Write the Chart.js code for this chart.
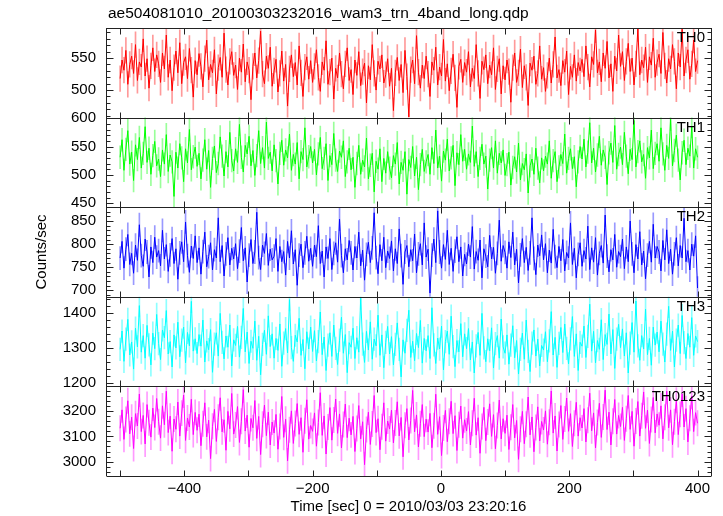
<!DOCTYPE html>
<html>
<head>
<meta charset="utf-8">
<script src="https://cdn.jsdelivr.net/npm/chart.js@4/dist/chart.umd.min.js"></script>
<style>
  html, body { margin: 0; padding: 0; background: #fff; }
</style>
</head>
<body>
<canvas id="chart" width="723" height="516"></canvas>
<script>
const chartTitle = 'ae504081010_20100303232016_wam3_trn_4band_long.qdp';
const xTitle = 'Time [sec] 0 = 2010/03/03 23:20:16';
const yTitle = 'Counts/sec';
const panelNames = ['TH0', 'TH1', 'TH2', 'TH3', 'TH0123'];
const panelColors = ['#ff0000', '#00ff00', '#0000ff', '#00ffff', '#ff00ff'];
const errColors = ['rgba(255,0,0,0.4)', 'rgba(0,255,0,0.4)', 'rgba(0,0,255,0.4)', 'rgba(0,255,255,0.45)', 'rgba(255,0,255,0.4)'];

// time bins: start of first bin and bin width (sec)
const binStart = -500;
const binWidth = 3;

const th0 = [
  518, 547, 531, 562, 509, 540, 553, 526, 571, 515, 544, 536, 580, 522, 549, 503, 538, 566, 529, 555,
  541, 512, 558, 533, 586, 520, 547, 499, 535, 561, 527, 574, 510, 543, 552, 518, 565, 531, 489, 546,
  524, 557, 537, 505, 549, 578, 516, 540, 527, 563, 494, 535, 551, 520, 589, 532, 508, 545, 560, 523,
  539, 501, 550, 528, 572, 513, 544, 531, 485, 537, 558, 519, 546, 592, 525, 510, 553, 534, 567, 506,
  530, 548, 497, 526, 561, 514, 540, 475, 533, 555, 521, 543, 508, 569, 527, 490, 536, 552, 517, 546,
  512, 537, 563, 520, 498, 544, 531, 577, 509, 528, 550, 486, 534, 519, 558, 525, 502, 541, 566, 515,
  532, 493, 547, 523, 560, 507, 529, 542, 480, 538, 516, 571, 526, 500, 545, 533, 555, 511, 524, 549,
  506, 534, 468, 527, 551, 515, 540, 496, 562, 521, 458, 532, 547, 510, 585, 528, 503, 539, 518, 553,
  525, 490, 544, 531, 567, 508, 536, 522, 579, 514, 541, 499, 530, 556, 519, 473, 537, 548, 512, 543,
  528, 560, 505, 534, 518, 571, 526, 487, 545, 532, 555, 510, 539, 524, 566, 501, 533, 549, 494, 538,
  516, 547, 529, 481, 535, 558, 512, 527, 564, 504, 538, 520, 476, 542, 531, 553, 509, 526, 569, 517,
  535, 498, 523, 550, 511, 540, 583, 519, 532, 507, 546, 528, 561, 493, 537, 520, 555, 514, 543, 530,
  548, 521, 569, 536, 505, 552, 540, 594, 527, 544, 513, 558, 534, 576, 519, 541, 498, 553, 530, 586,
  537, 560, 515, 545, 573, 529, 550, 508, 541, 596, 524, 547, 535, 567, 512, 552, 539, 581, 520, 543,
  556, 526, 590, 538, 511, 549, 533, 571, 545, 502, 558, 536, 595, 522, 547, 563, 517, 541, 578, 529,
  546
];
const th1 = [
  531, 562, 508, 545, 578, 519, 540, 490, 553, 527, 566, 512, 538, 585, 522, 547, 501, 534, 559, 516,
  528, 497, 544, 519, 571, 506, 535, 523, 462, 540, 512, 555, 530, 488, 546, 521, 580, 509, 532, 549,
  515, 538, 493, 526, 562, 510, 543, 478, 529, 551, 504, 520, 567, 533, 498, 541, 514, 575, 525, 507,
  546, 522, 589, 531, 505, 552, 537, 568, 516, 543, 499, 534, 578, 520, 548, 512, 593, 529, 540, 507,
  553, 525, 484, 538, 561, 517, 544, 530, 572, 508, 536, 519, 557, 493, 541, 527, 583, 514, 532, 550,
  521, 545, 500, 537, 566, 511, 529, 555, 490, 534, 518, 573, 526, 506, 542, 531, 560, 497, 523, 547,
  509, 531, 478, 520, 552, 501, 526, 514, 565, 493, 517, 538, 470, 524, 510, 546, 488, 529, 503, 541,
  512, 495, 534, 519, 557, 484, 522, 508, 541, 466, 527, 513, 550, 498, 531, 474, 518, 545, 506, 523,
  536, 501, 548, 520, 579, 512, 533, 489, 542, 526, 563, 507, 530, 552, 481, 539, 518, 571, 524, 545,
  510, 537, 522, 586, 515, 541, 497, 529, 554, 519, 533, 475, 526, 548, 512, 560, 503, 538, 521, 544,
  499, 518, 540, 482, 513, 532, 505, 556, 491, 520, 509, 537, 468, 516, 528, 501, 547, 512, 486, 530,
  507, 533, 519, 560, 494, 525, 541, 488, 514, 536, 520, 572, 503, 529, 546, 511, 532, 479, 523, 550,
  528, 563, 514, 540, 592, 521, 547, 505, 535, 568, 517, 544, 531, 483, 539, 556, 522, 587, 510, 536,
  549, 518, 575, 533, 502, 545, 527, 596, 514, 541, 560, 523, 536, 494, 548, 530, 579, 511, 538, 555,
  524, 583, 537, 508, 552, 529, 598, 516, 543, 570, 526, 491, 539, 561, 518, 547, 533, 585, 512, 546,
  531
];
const th2 = [
  770, 806, 748, 789, 821, 756, 780, 737, 798, 765, 842, 775, 752, 811, 783, 729, 794, 760, 815, 772,
  786, 753, 830, 768, 799, 741, 777, 812, 758, 790, 724, 781, 805, 762, 848, 775, 739, 796, 769, 818,
  760, 792, 735, 784, 826, 751, 773, 803, 744, 788, 770, 857, 762, 797, 731, 779, 814, 755, 791, 768,
  801, 747, 785, 836, 764, 792, 718, 776, 810, 758, 783, 869, 771, 745, 798, 780, 823, 754, 789, 766,
  774, 812, 741, 795, 762, 784, 733, 806, 770, 829, 757, 788, 711, 776, 800, 749, 781, 817, 763, 791,
  752, 798, 773, 840, 758, 785, 729, 794, 769, 812, 745, 780, 803, 761, 854, 775, 738, 790, 766, 808,
  781, 744, 795, 770, 826, 753, 787, 722, 778, 804, 760, 792, 868, 771, 736, 799, 764, 815, 749, 785,
  769, 807, 742, 790, 758, 833, 775, 713, 783, 797, 751, 788, 764, 822, 738, 779, 801, 755, 846, 772,
  789, 694, 776, 811, 760, 872, 783, 748, 799, 767, 830, 756, 791, 741, 785, 816, 762, 794, 731, 778,
  757, 800, 772, 838, 746, 784, 765, 809, 727, 790, 774, 751, 819, 768, 793, 737, 780, 852, 763, 797,
  782, 748, 805, 771, 826, 755, 789, 716, 777, 812, 760, 793, 743, 781, 857, 769, 734, 798, 775, 820,
  766, 801, 738, 787, 759, 832, 773, 749, 795, 764, 810, 742, 782, 770, 846, 756, 791, 727, 778, 803,
  752, 786, 768, 839, 745, 792, 761, 814, 733, 780, 797, 759, 863, 774, 740, 788, 766, 821, 750, 784,
  773, 811, 747, 794, 762, 850, 779, 738, 799, 768, 827, 755, 785, 725, 776, 806, 761, 843, 770, 795,
  783, 742, 808, 766, 831, 758, 789, 735, 779, 814, 753, 797, 770, 856, 762, 786, 744, 800, 774, 818,
  705
];
const th3 = [
  1296, 1348, 1262, 1325, 1381, 1280, 1317, 1240, 1356, 1303, 1420, 1288, 1335, 1271, 1364, 1309, 1252, 1342, 1298, 1395,
  1312, 1267, 1351, 1329, 1406, 1283, 1318, 1246, 1337, 1300, 1373, 1275, 1322, 1359, 1258, 1344, 1306, 1432, 1291, 1326,
  1284, 1338, 1305, 1379, 1260, 1320, 1295, 1352, 1231, 1311, 1343, 1277, 1398, 1316, 1269, 1334, 1302, 1365, 1249, 1323,
  1307, 1361, 1274, 1330, 1412, 1289, 1345, 1256, 1319, 1299, 1376, 1265, 1333, 1224, 1310, 1350, 1282, 1391, 1304, 1340,
  1271, 1327, 1293, 1368, 1248, 1314, 1355, 1286, 1437, 1301, 1262, 1336, 1317, 1384, 1279, 1324, 1241, 1346, 1297, 1359,
  1290, 1349, 1263, 1318, 1402, 1281, 1331, 1236, 1308, 1343, 1276, 1365, 1299, 1253, 1322, 1387, 1285, 1338, 1230, 1315,
  1302, 1356, 1270, 1329, 1288, 1441, 1311, 1259, 1347, 1294, 1374, 1268, 1325, 1306, 1393, 1279, 1337, 1244, 1316, 1361,
  1283, 1332, 1252, 1310, 1371, 1296, 1218, 1323, 1285, 1350, 1407, 1273, 1319, 1264, 1341, 1301, 1378, 1257, 1327, 1292,
  1335, 1270, 1414, 1309, 1256, 1328, 1297, 1362, 1238, 1318, 1348, 1282, 1390, 1304, 1247, 1321, 1289, 1369, 1275, 1340,
  1298, 1355, 1266, 1317, 1229, 1306, 1344, 1279, 1398, 1300, 1261, 1326, 1292, 1357, 1243, 1312, 1335, 1271, 1382, 1303,
  1285, 1337, 1254, 1308, 1363, 1272, 1321, 1226, 1296, 1342, 1268, 1379, 1290, 1233, 1314, 1351, 1277, 1325, 1249, 1307,
  1294, 1346, 1261, 1320, 1403, 1280, 1330, 1245, 1313, 1358, 1287, 1368, 1299, 1255, 1326, 1389, 1276, 1340, 1236, 1316,
  1305, 1362, 1273, 1333, 1424, 1291, 1347, 1258, 1321, 1296, 1380, 1267, 1338, 1310, 1396, 1283, 1352, 1242, 1325, 1367,
  1301, 1354, 1277, 1343, 1229, 1314, 1372, 1288, 1433, 1306, 1265, 1335, 1297, 1410, 1281, 1327, 1251, 1359, 1308, 1345,
  1289, 1376, 1311, 1260, 1339, 1418, 1293, 1348, 1246, 1322, 1365, 1284, 1392, 1315, 1270, 1341, 1302, 1386, 1279, 1334,
  1318
];
const th0123 = [
  3132, 3205, 3088, 3167, 3241, 3110, 3176, 3052, 3190, 3141, 3268, 3119, 3183, 3070, 3226, 3154, 3097, 3212, 3135, 3250,
  3158, 3093, 3221, 3146, 3279, 3115, 3180, 3041, 3169, 3128, 3236, 3101, 3192, 3264, 3084, 3173, 3137, 3247, 3107, 3195,
  3124, 3188, 3063, 3150, 3233, 3098, 3164, 3012, 3140, 3207, 3080, 3176, 3253, 3118, 3166, 3045, 3199, 3130, 3270, 3109,
  3145, 3218, 3076, 3160, 3285, 3121, 3184, 3057, 3171, 3134, 3242, 3092, 3179, 3028, 3148, 3224, 3103, 3196, 3066, 3157,
  3113, 3187, 3049, 3139, 3258, 3096, 3168, 3003, 3126, 3201, 3072, 3151, 3230, 3108, 3174, 3037, 3162, 3245, 3089, 3143,
  3120, 3193, 3061, 3155, 3273, 3104, 3181, 3030, 3137, 3214, 3085, 3165, 3248, 3112, 3189, 3054, 3147, 3228, 3095, 3172,
  3106, 3179, 3040, 3131, 3222, 3090, 3158, 2988, 3127, 3196, 3068, 3149, 3262, 3115, 3170, 3047, 3138, 3233, 3081, 3161,
  3129, 3204, 3074, 3153, 3237, 3102, 3175, 3019, 3144, 3210, 3086, 3163, 3282, 3118, 3185, 3058, 3150, 3226, 3099, 3168,
  3117, 3191, 3055, 3142, 3267, 3108, 3178, 3024, 3133, 3203, 3079, 3160, 3239, 3111, 3182, 3044, 3146, 3220, 3093, 3166,
  3121, 3198, 3066, 3152, 3251, 3105, 3174, 3033, 3139, 3215, 3083, 3157, 3229, 3100, 3186, 3051, 3143, 3244, 3090, 3170,
  3112, 3184, 3048, 3136, 3226, 3094, 3163, 3009, 3128, 3199, 3071, 3148, 3256, 3106, 3177, 3039, 3135, 3217, 3082, 3159,
  3125, 3201, 3069, 3156, 3280, 3113, 3181, 3042, 3147, 3222, 3088, 3169, 3252, 3120, 3190, 3060, 3152, 3235, 3101, 3174,
  3133, 3210, 3078, 3164, 3271, 3122, 3193, 3054, 3155, 3231, 3096, 3177, 3283, 3127, 3196, 3066, 3160, 3246, 3109, 3183,
  3139, 3215, 3084, 3170, 3262, 3128, 3199, 3061, 3161, 3238, 3101, 3182, 3276, 3132, 3204, 3072, 3167, 3254, 3114, 3189,
  3144, 3221, 3090, 3176, 3279, 3134, 3205, 3067, 3158, 3243, 3107, 3187, 3268, 3137, 3210, 3078, 3172, 3259, 3119, 3194,
  3152
];
const seriesValues = [th0, th1, th2, th3, th0123];
// typical 1-sigma error per panel (counts/sec)
const seriesErrors = [20, 20, 25, 32, 50];

// axis ranges and tick steps per panel
const yMins = [457, 443, 686, 1191, 2943];
const yMaxs = [597, 601, 880, 1445, 3298];
const yMajor = [50, 50, 50, 100, 100];
const yMinor = [10, 10, 10, 20, 20];
const xMin = -522, xMax = 421;

Chart.defaults.font.family = '"Liberation Sans", Arial, sans-serif';
Chart.defaults.font.size = 15;
Chart.defaults.color = '#000';

const FRAME = '#222';

const framePlugin = {
  id: 'frame',
  afterDraw(chart) {
    const ctx = chart.ctx;
    const area = chart.chartArea;
    const xs = chart.scales.x;
    ctx.save();
    ctx.strokeStyle = FRAME;
    ctx.lineWidth = 1;
    ctx.beginPath();
    const l = Math.round(area.left) + 0.5;
    const r = Math.round(area.right) + 0.5;
    panelNames.forEach((name, i) => {
      const ys = chart.scales['y' + i];
      const top = Math.round(ys.top) + 0.5;
      const bot = Math.round(ys.bottom) + 0.5;
      ctx.moveTo(l, top); ctx.lineTo(r, top);
      ctx.moveTo(l, bot); ctx.lineTo(r, bot);
      // y ticks, inside on both sides
      const start = Math.ceil(yMins[i] / yMinor[i]) * yMinor[i];
      for (let v = start; v <= yMaxs[i]; v += yMinor[i]) {
        const y = Math.round(ys.getPixelForValue(v)) + 0.5;
        const len = (v % yMajor[i] === 0) ? 7 : 4;
        ctx.moveTo(l, y); ctx.lineTo(l + len, y);
        ctx.moveTo(r, y); ctx.lineTo(r - len, y);
      }
      // x ticks at top and bottom of each panel
      for (let t = -500; t <= 400; t += 100) {
        const x = Math.round(xs.getPixelForValue(t)) + 0.5;
        ctx.moveTo(x, top); ctx.lineTo(x, top + 6);
        ctx.moveTo(x, bot); ctx.lineTo(x, bot - 6);
      }
    });
    ctx.moveTo(l, area.top); ctx.lineTo(l, area.bottom);
    ctx.moveTo(r, area.top); ctx.lineTo(r, area.bottom);
    ctx.stroke();

    ctx.fillStyle = '#000';
    ctx.font = '15px "Liberation Sans", Arial, sans-serif';
    ctx.textBaseline = 'middle';
    ctx.textAlign = 'right';
    panelNames.forEach((name, i) => {
      ctx.fillText(name, area.right - 6, chart.scales['y' + i].top + 10);
    });
    ctx.textAlign = 'left';
    ctx.font = '15.5px "Liberation Sans", Arial, sans-serif';
    ctx.fillText(chartTitle, 108, 14);
    ctx.restore();
  }
};

const scales = {
  x: {
    type: 'linear',
    min: xMin,
    max: xMax,
    offset: false,
    grid: { display: false, drawTicks: false, offset: false },
    border: { display: false },
    ticks: {
      stepSize: 200,
      includeBounds: false,
      padding: 4,
      maxRotation: 0,
      callback: v => v < 0 ? '\u2212' + Math.abs(v) : String(v)
    },
    title: { display: true, text: xTitle, padding: 0 },
    afterFit(scale) { scale.height = 40; }
  }
};
// stacked y axes, defined bottom panel first
for (let i = panelNames.length - 1; i >= 0; i--) {
  scales['y' + i] = {
    type: 'linear',
    position: 'left',
    stack: 'panels',
    stackWeight: 1,
    min: yMins[i],
    max: yMaxs[i],
    grid: { display: false, drawTicks: false },
    border: { display: false },
    ticks: {
      stepSize: yMajor[i],
      includeBounds: false,
      padding: 10,
      autoSkip: false,
      callback: v => String(v)
    },
    title: i === 2 ? { display: true, text: yTitle, padding: { top: 33, bottom: 0 } } : { display: false },
    afterFit(scale) { scale.width = 106; }
  };
}

const datasets = [];
seriesValues.forEach((vals, i) => {
  // light error bars behind
  datasets.push({
    type: 'bar',
    label: panelNames[i] + ' err',
    data: vals.map((v, k) => ({ x: binStart + k * binWidth, y: [v - seriesErrors[i], v + seriesErrors[i]] })),
    yAxisID: 'y' + i,
    backgroundColor: errColors[i],
    barThickness: 1,
    grouped: false,
    order: 2
  });
  datasets.push({
    type: 'line',
    label: panelNames[i],
    data: vals.map((v, k) => ({ x: binStart + k * binWidth, y: v })),
    yAxisID: 'y' + i,
    borderColor: panelColors[i],
    borderWidth: 1,
    pointRadius: 0,
    tension: 0,
    fill: false,
    order: 1
  });
});

new Chart(document.getElementById('chart').getContext('2d'), {
  type: 'line',
  data: { datasets: datasets },
  options: {
    responsive: false,
    animation: false,
    layout: { padding: { top: 28, right: 12, left: 0, bottom: 0 } },
    plugins: { legend: { display: false }, tooltip: { enabled: false } },
    scales: scales
  },
  plugins: [framePlugin]
});
</script>
</body>
</html>
